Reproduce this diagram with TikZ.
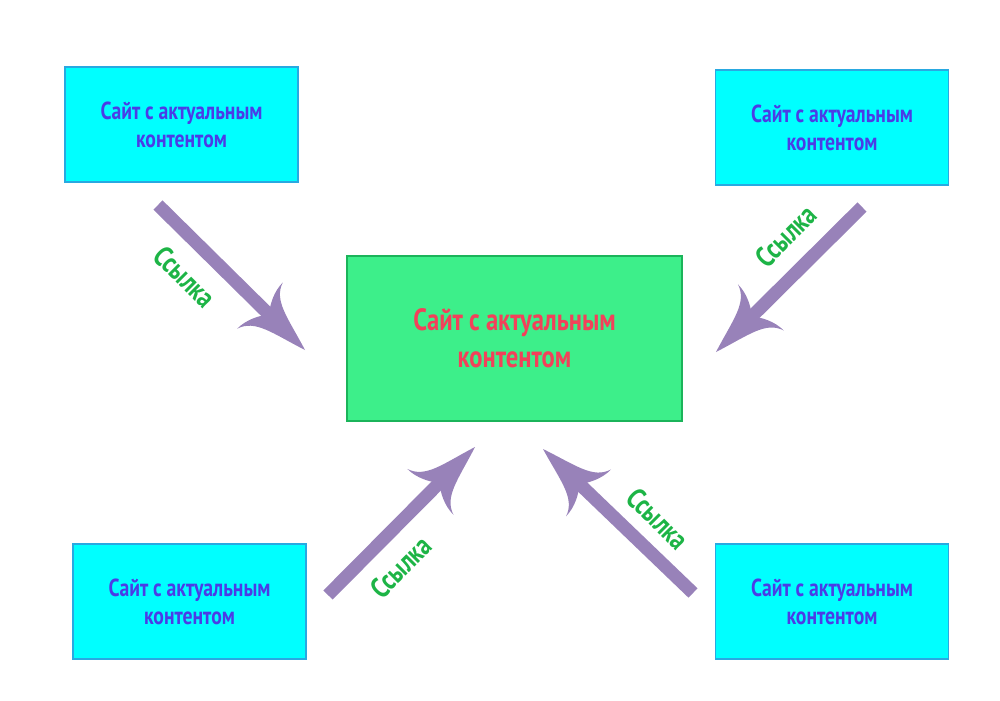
\documentclass[tikz,border=0pt]{standalone}
\usepackage{fontspec}
\setmainfont{PT Sans}[FakeStretch=0.8]
\usetikzlibrary{positioning}
\usetikzlibrary{arrows.meta}

\definecolor{boxcyan}{HTML}{00FFFF}
\definecolor{boxblue}{HTML}{29A9E1}
\definecolor{textblue}{HTML}{4B3CE6}
\definecolor{maingreen}{HTML}{3DEF8A}
\definecolor{mainborder}{HTML}{1BB45A}
\definecolor{mainred}{HTML}{F2415A}
\definecolor{linkpurple}{HTML}{9882B9}
\definecolor{linkgreen}{HTML}{1DB446}

% curved arrow head
\pgfdeclarearrow{
	name = Swoop,
	parameters = {\the\pgfarrowlength,\the\pgfarrowwidth},
	setup code = {
		\pgfarrowssettipend{\pgfarrowlength}
		\pgfarrowssetbackend{0pt}
		\pgfarrowssetlineend{.25\pgfarrowlength}
		\pgfarrowssavethe\pgfarrowlength
		\pgfarrowssavethe\pgfarrowwidth
	},
	drawing code = {
		\pgfpathmoveto{\pgfqpoint{\pgfarrowlength}{0pt}}
		\pgfpathcurveto{\pgfqpoint{.45\pgfarrowlength}{.17\pgfarrowwidth}}
			{\pgfqpoint{.1\pgfarrowlength}{.2\pgfarrowwidth}}
			{\pgfqpoint{0pt}{.5\pgfarrowwidth}}
		\pgfpathcurveto{\pgfqpoint{0pt}{.3\pgfarrowwidth}}
			{\pgfqpoint{.1\pgfarrowlength}{.12\pgfarrowwidth}}
			{\pgfqpoint{.2\pgfarrowlength}{0pt}}
		\pgfpathcurveto{\pgfqpoint{.1\pgfarrowlength}{-.12\pgfarrowwidth}}
			{\pgfqpoint{0pt}{-.3\pgfarrowwidth}}
			{\pgfqpoint{0pt}{-.5\pgfarrowwidth}}
		\pgfpathcurveto{\pgfqpoint{.1\pgfarrowlength}{-.2\pgfarrowwidth}}
			{\pgfqpoint{.45\pgfarrowlength}{-.17\pgfarrowwidth}}
			{\pgfqpoint{\pgfarrowlength}{0pt}}
		\pgfpathclose
		\pgfusepathqfill
	},
	defaults = {length=36pt, width=37pt}
}

\begin{document}
\begin{tikzpicture}[x=0.02cm,y=-0.02cm,
	site/.style={draw=boxblue, line width=1pt, fill=boxcyan, minimum width=4.66cm, minimum height=2.3cm,
		align=center, text=textblue, font=\bfseries\fontsize{14}{16}\selectfont},
	link/.style={draw=linkpurple, line width=7.4pt, -{Swoop[length=36pt,width=37pt]}},
	lbl/.style={text=linkgreen, font=\bfseries\fontsize{16.5}{18}\selectfont}]
	\useasboundingbox (0,0) rectangle (1000,700);

	\node (main) [draw=mainborder, line width=1.5pt, fill=maingreen, minimum width=6.7cm, minimum height=3.3cm,
		align=center, text=mainred, font=\bfseries\fontsize{17.5}{21}\selectfont] at (514.5,338.5)
		{Сайт с актуальным\\контентом};
	\node (s1) [site] at (181.5,124.5) {Сайт с актуальным\\контентом};
	\node (s2) [site] at (832,127.5) {Сайт с актуальным\\контентом};
	\node (s3) [site] at (189.5,601.5) {Сайт с актуальным\\контентом};
	\node (s4) [site] at (832,601.5) {Сайт с актуальным\\контентом};

	\coordinate (t1) at (158,205);
	\coordinate (h1) at (305,350);
	\coordinate (t2) at (862,207);
	\coordinate (h2) at (716,352);
	\coordinate (t3) at (328,595);
	\coordinate (h3) at (475,447);
	\coordinate (t4) at (693,593);
	\coordinate (h4) at (543,449);

	\draw[link] (t1) -- (h1);
	\draw[link] (t2) -- (h2);
	\draw[link] (t3) -- (h3);
	\draw[link] (t4) -- (h4);

	\node (l1) [lbl, rotate=-45] at (185,277) {Ссылка};
	\node (l2) [lbl, rotate=45] at (786,236) {Ссылка};
	\node (l3) [lbl, rotate=45] at (401,567) {Ссылка};
	\node (l4) [lbl, rotate=-45] at (658,519) {Ссылка};
\end{tikzpicture}
\end{document}
